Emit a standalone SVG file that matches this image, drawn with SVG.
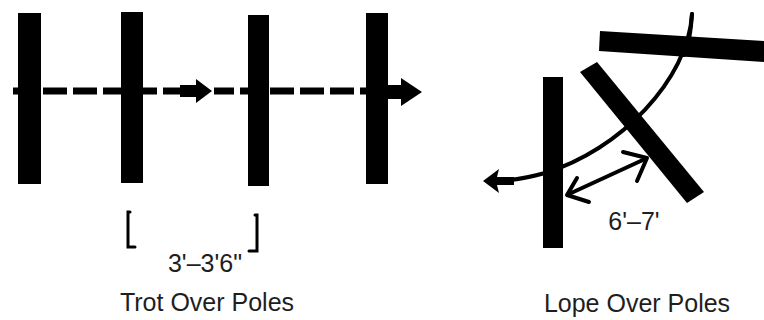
<svg xmlns="http://www.w3.org/2000/svg" width="764" height="320" viewBox="0 0 764 320">
<style>
.pole{fill:#000}
.dash{stroke:#000;stroke-width:7;fill:none;stroke-dasharray:24 6}
.line{stroke:#000;fill:none;stroke-linecap:round}
.head{fill:#000}
.txt{font-family:"Liberation Sans",Arial,sans-serif;font-size:25px;fill:#1e1e1e;text-anchor:middle}
</style>
<rect width="764" height="320" fill="#fff"/>
<g id="connectors">
  <line class="dash" x1="13" y1="91" x2="182" y2="91"/>
  <polygon id="trot-arrow1" class="head" points="180,85 196,85 196,79 212,91 196,103 196,97 180,97"/>
  <line class="dash" x1="214" y1="91" x2="392" y2="91" stroke-dashoffset="4"/>
  <polygon id="trot-arrow2" class="head" points="388,85 401,85 401,78 422,92 401,106 401,99 388,99"/>
  <path class="line" stroke-width="4" d="M692 14 C688 80 620 150 545 173 Q520 180 498 181"/>
  <polygon id="lope-arrow" class="head" points="483,181 499,169 497,177 514,177 514,185 497,185 499,193"/>
  <path class="line" stroke-width="4" d="M569 194 L645 159"/>
  <path class="line" stroke-width="4" stroke-linejoin="round" d="M577 178 L567 195 L589 202"/>
  <path class="line" stroke-width="4" stroke-linejoin="round" d="M623 152 L647 158 L637 181"/>
  <path class="line" stroke-width="3" stroke-linecap="butt" d="M130 212 L128 212 L128 247 L135 247"/>
  <path class="line" stroke-width="3" stroke-linecap="butt" d="M255 215 L257 215 L257 251 L249 251"/>
</g>
<g id="trot-pole1"><rect class="pole" x="18" y="13" width="23" height="171"/></g>
<g id="trot-pole2"><rect class="pole" x="121" y="12" width="22" height="171"/></g>
<g id="trot-pole3"><rect class="pole" x="248" y="15" width="21" height="171"/></g>
<g id="trot-pole4"><rect class="pole" x="366" y="13" width="22" height="171"/></g>
<g id="lope-pole1"><rect class="pole" x="543" y="77" width="20" height="171"/></g>
<g id="lope-pole2"><polygon class="pole" points="580,72 597,62 704,192 687,203"/></g>
<g id="lope-pole3"><polygon class="pole" points="600,31 766,41 765,62 599,51"/></g>
<path class="line" stroke-width="4" d="M692 14 C691 30 689 45 684 55"/>
<g id="labels">
  <text class="txt" x="205" y="272">3'–3'6"</text>
  <text class="txt" x="634" y="230">6'–7'</text>
  <text class="txt" x="207" y="311">Trot Over Poles</text>
  <text class="txt" x="637" y="312">Lope Over Poles</text>
</g>
</svg>
